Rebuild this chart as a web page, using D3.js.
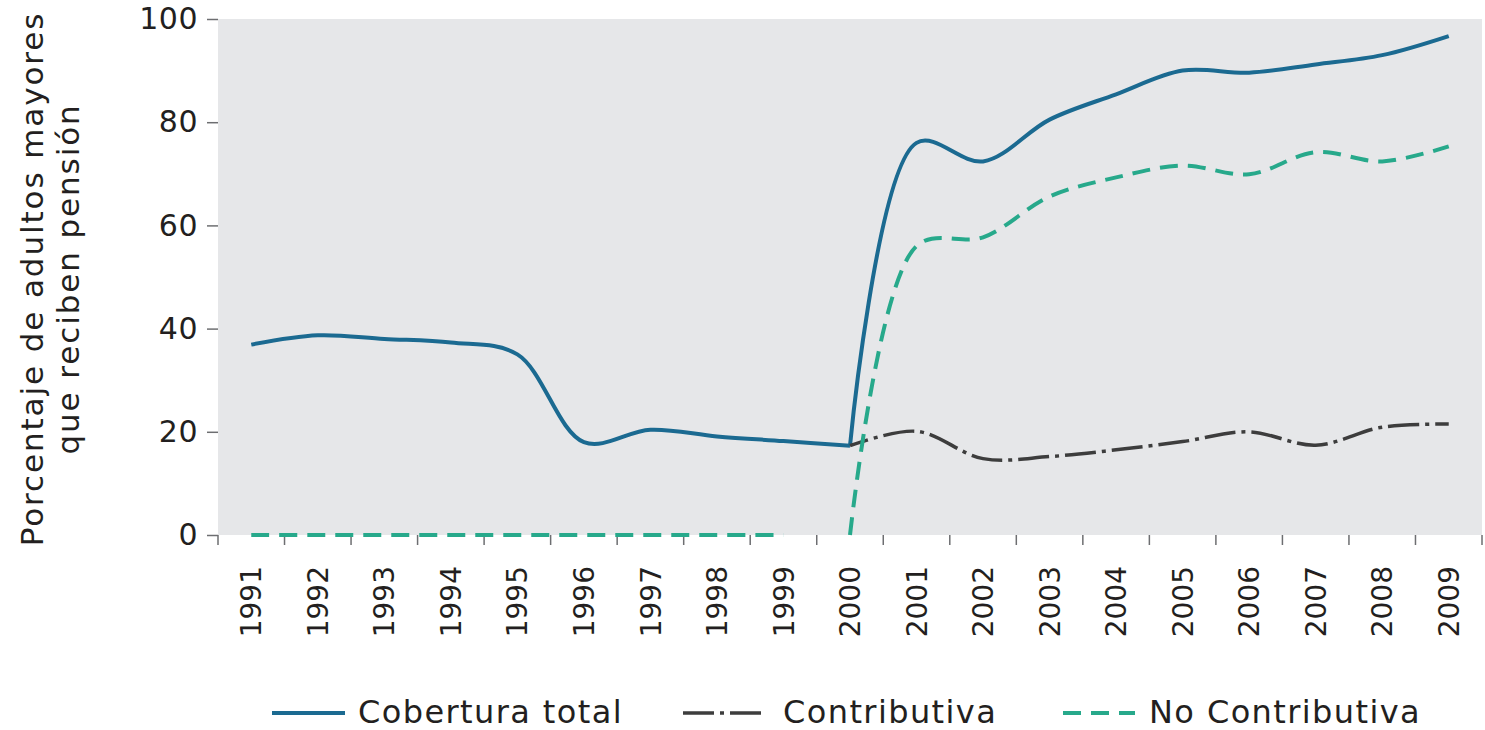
<!DOCTYPE html>
<html>
<head>
<meta charset="utf-8">
<script src="https://cdn.jsdelivr.net/npm/d3@7"></script>
<style>
  body { margin: 0; background: #fff; }
  text { font-family: "DejaVu Sans", sans-serif; fill: #231f20; }
</style>
</head>
<body>
<div id="chart"></div>
<script>
// data
var years = ["1991", "1992", "1993", "1994", "1995", "1996", "1997", "1998", "1999", "2000",
  "2001", "2002", "2003", "2004", "2005", "2006", "2007", "2008", "2009"];
var total = [36.9, 38.7, 38.0, 37.3, 35.0, 18.0, 20.4, 19.1, 18.2, 17.3,
  76.0, 72.4, 80.5, 85.4, 90.0, 89.6, 91.2, 93.0, 96.7];
var contrib = [null, null, null, null, null, null, null, null, null, 17.3,
  20.1, 14.8, 15.2, 16.5, 18.1, 20.0, 17.4, 20.9, 21.5];
var noContrib = [0, 0, 0, 0, 0, 0, 0, 0, 0, 0,
  56.0, 57.7, 65.6, 69.3, 71.6, 69.9, 74.2, 72.4, 75.3];
var yTicks = [0, 20, 40, 60, 80, 100];
var seriesNames = ["Cobertura total", "Contributiva", "No Contributiva"];
var breakIndex = 9; // 2000: the chart changes regime here

var width = 1485,
  height = 730;
var margin = { left: 218, top: 19, right: 3, bottom: 195 };

var x = d3.scaleBand().domain(years).range([margin.left, width - margin.right]).padding(0);
var y = d3.scaleLinear().domain([0, 100]).range([height - margin.bottom, margin.top]);
var cx = function (d) { return x(d) + x.bandwidth() / 2; };

var svg = d3.select("#chart").append("svg")
  .attr("width", width)
  .attr("height", height);

// grey plot background
svg.append("rect")
  .attr("x", margin.left)
  .attr("y", margin.top)
  .attr("width", width - margin.left - margin.right)
  .attr("height", y(0) - margin.top)
  .attr("fill", "#e6e7e9");

// y axis
var yAxisG = svg.append("g")
  .attr("transform", "translate(" + margin.left + ",0)")
  .call(d3.axisLeft(y).tickValues(yTicks).tickSize(11).tickPadding(9));
yAxisG.select(".domain").remove();
yAxisG.selectAll(".tick line").attr("stroke", "#6d6e71").attr("stroke-width", 1.5);
yAxisG.selectAll(".tick text").style("font-size", "30px").style("letter-spacing", "0.5px").attr("fill", "#231f20");

// x ticks at the band edges
var edges = years.map(function (d) { return x(d); }).concat([x.range()[1]]);
svg.append("g").selectAll("line")
  .data(edges)
  .enter().append("line")
  .attr("x1", function (d) { return d; })
  .attr("x2", function (d) { return d; })
  .attr("y1", y(0))
  .attr("y2", y(0) + 10)
  .attr("stroke", "#6d6e71")
  .attr("stroke-width", 1.5);

// year labels
svg.append("g").selectAll("text")
  .data(years)
  .enter().append("text")
  .attr("transform", function (d) { return "translate(" + cx(d) + "," + (y(0) + 31) + ") rotate(-90)"; })
  .attr("text-anchor", "end")
  .attr("dy", "0.36em")
  .style("font-size", "28px")
  .text(function (d) { return d; });

// y axis title
var yTitle = svg.append("text")
  .attr("transform", "translate(0," + 279 + ") rotate(-90)")
  .attr("text-anchor", "middle")
  .style("font-size", "31px")
  .style("letter-spacing", "1.9px");
yTitle.append("tspan").attr("x", 0).attr("y", 43).text("Porcentaje de adultos mayores");
yTitle.append("tspan").attr("x", 0).attr("y", 79).text("que reciben pensión");

// lines
var line = d3.line()
  .defined(function (d) { return d.v != null; })
  .x(function (d) { return cx(d.year); })
  .y(function (d) { return y(d.v); })
  .curve(d3.curveCatmullRom.alpha(0.5));

function points(values, from, to) {
  return years.slice(from, to).map(function (yr, i) {
    return { year: yr, v: values[from + i] };
  });
}

var styles = [
  { color: "#1b6a91", width: 4, dash: null },
  { color: "#3d3d3d", width: 3.5, dash: "31,6,4,6" },
  { color: "#27a98b", width: 4, dash: "18,10" }
];

// Cobertura total: two pieces joined at 2000
[points(total, 0, breakIndex + 1), points(total, breakIndex, years.length)].forEach(function (p) {
  svg.append("path").datum(p)
    .attr("d", line)
    .attr("fill", "none")
    .attr("stroke", styles[0].color)
    .attr("stroke-width", styles[0].width);
});

// Contributiva
svg.append("path").datum(points(contrib, breakIndex, years.length))
  .attr("d", line)
  .attr("fill", "none")
  .attr("stroke", styles[1].color)
  .attr("stroke-width", styles[1].width)
  .attr("stroke-dasharray", styles[1].dash)
  .attr("stroke-dashoffset", 12);

// No Contributiva
[points(noContrib, 0, breakIndex), points(noContrib, breakIndex, years.length)].forEach(function (p) {
  svg.append("path").datum(p)
    .attr("d", line)
    .attr("fill", "none")
    .attr("stroke", styles[2].color)
    .attr("stroke-width", styles[2].width)
    .attr("stroke-dasharray", styles[2].dash);
});

// legend
var legendX = [272, 683, 1063];
var legendY = 713;
var legend = svg.append("g").selectAll("g")
  .data(seriesNames)
  .enter().append("g")
  .attr("transform", function (d, i) { return "translate(" + legendX[i] + "," + legendY + ")"; });

legend.append("line")
  .attr("x1", 0)
  .attr("x2", function (d, i) { return i === 0 ? 73 : (i === 1 ? 79 : 72); })
  .attr("stroke", function (d, i) { return styles[i].color; })
  .attr("stroke-width", function (d, i) { return styles[i].width; })
  .attr("stroke-dasharray", function (d, i) { return styles[i].dash; });

legend.append("text")
  .attr("x", function (d, i) { return i === 2 ? 86 : (i === 1 ? 100 : 86); })
  .attr("y", 10)
  .style("font-size", "32px")
  .style("letter-spacing", "1.4px")
  .text(function (d) { return d; });
</script>
</body>
</html>
